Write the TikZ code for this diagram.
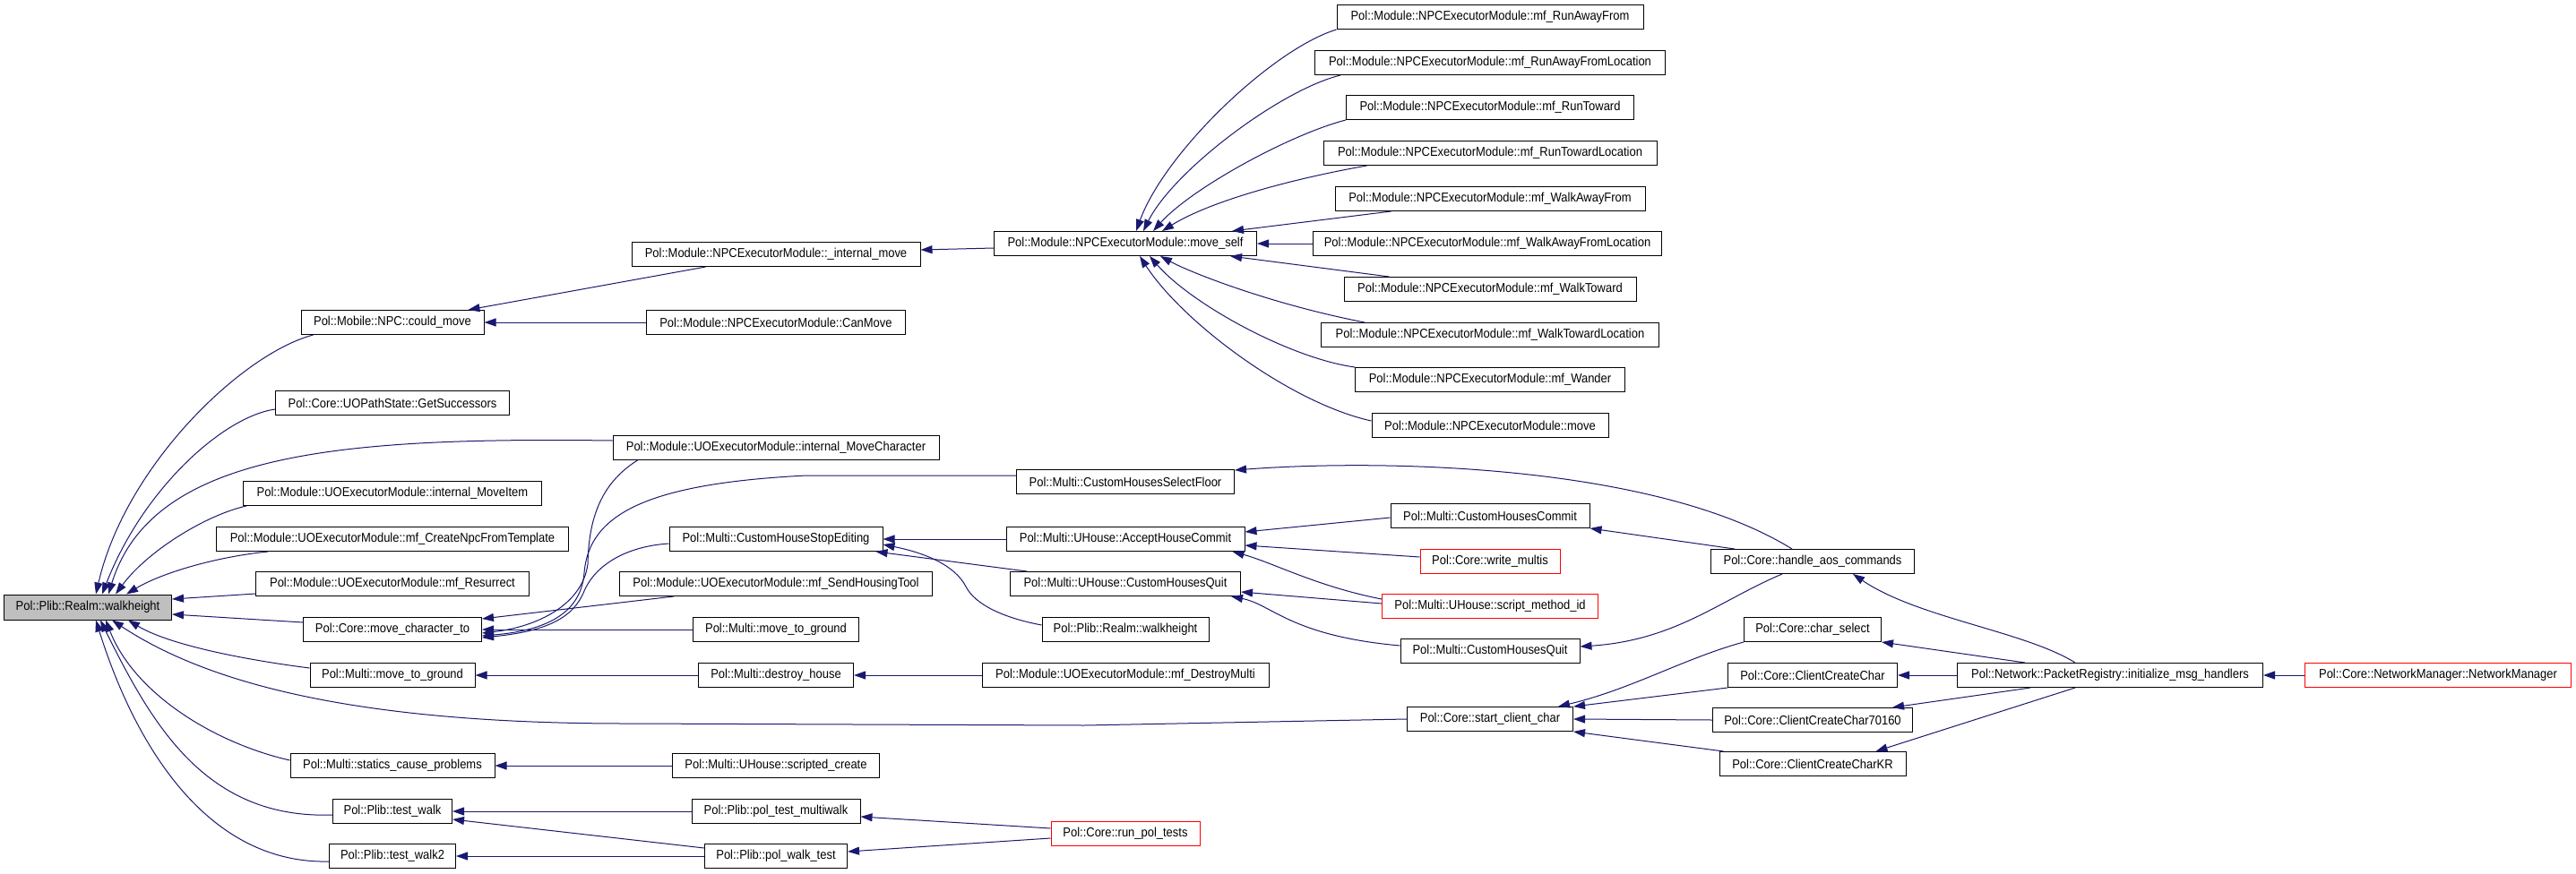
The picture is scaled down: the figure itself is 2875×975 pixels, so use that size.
\documentclass[tikz,border=0pt]{standalone}
\usepackage{fontspec}
\setmainfont[FakeStretch=0.9]{Liberation Sans}
\usetikzlibrary{arrows.meta}
\definecolor{edgeblue}{HTML}{191970}
\definecolor{rootgray}{HTML}{BFBFBF}
\definecolor{truncred}{HTML}{FF0000}
\tikzset{
  fn/.style={draw=black, line width=1pt, fill=white, inner sep=0pt, minimum height=27pt, font=\fontsize{14.4}{16}\selectfont},
  rootfn/.style={fn, fill=rootgray, minimum height=28pt},
  trunc/.style={fn, draw=truncred},
  edge/.style={draw=edgeblue, line width=1pt, {Triangle[length=13pt,width=9pt]}-},
}
\begin{document}
\begin{tikzpicture}[x=1pt,y=-1pt]
\useasboundingbox[fill=white] (0,0) rectangle (2875,975);
% column 0
\node[rootfn, minimum width=187pt] (root) at (98,678) {Pol::Plib::Realm::walkheight};
% column 1
\node[fn, minimum width=204pt] (could) at (438,360) {Pol::Mobile::NPC::could\_move};
\node[fn, minimum width=261pt] (getsucc) at (438,450) {Pol::Core::UOPathState::GetSuccessors};
\node[fn, minimum width=333pt] (movei) at (438,551) {Pol::Module::UOExecutorModule::internal\_MoveItem};
\node[fn, minimum width=393pt] (createnpc) at (438,602) {Pol::Module::UOExecutorModule::mf\_CreateNpcFromTemplate};
\node[fn, minimum width=305pt] (resurrect) at (438,652) {Pol::Module::UOExecutorModule::mf\_Resurrect};
\node[fn, minimum width=199pt] (movechar) at (438,703) {Pol::Core::move\_character\_to};
\node[fn, minimum width=184pt] (mtg1) at (438,754) {Pol::Multi::move\_to\_ground};
\node[fn, minimum width=228pt] (statics) at (438,855) {Pol::Multi::statics\_cause\_problems};
\node[fn, minimum width=133pt] (testwalk) at (438,906) {Pol::Plib::test\_walk};
\node[fn, minimum width=141pt] (testwalk2) at (438,956) {Pol::Plib::test\_walk2};
% column 2
\node[fn, minimum width=322pt] (intmove) at (866,284) {Pol::Module::NPCExecutorModule::\_internal\_move};
\node[fn, minimum width=289pt] (canmove) at (866,360) {Pol::Module::NPCExecutorModule::CanMove};
\node[fn, minimum width=364pt] (imc) at (866,500) {Pol::Module::UOExecutorModule::internal\_MoveCharacter};
\node[fn, minimum width=238pt] (stopedit) at (866,602) {Pol::Multi::CustomHouseStopEditing};
\node[fn, minimum width=349pt] (sendhousing) at (866,652) {Pol::Module::UOExecutorModule::mf\_SendHousingTool};
\node[fn, minimum width=185pt] (mtg2) at (866,703) {Pol::Multi::move\_to\_ground};
\node[fn, minimum width=173pt] (destroyh) at (866,754) {Pol::Multi::destroy\_house};
\node[fn, minimum width=231pt] (scripted) at (866,855) {Pol::Multi::UHouse::scripted\_create};
\node[fn, minimum width=188pt] (multiwalk) at (866,906) {Pol::Plib::pol\_test\_multiwalk};
\node[fn, minimum width=159pt] (walktest) at (866,956) {Pol::Plib::pol\_walk\_test};
% column 3
\node[fn, minimum width=293pt] (moveself) at (1256,272) {Pol::Module::NPCExecutorModule::move\_self};
\node[fn, minimum width=243pt] (selfloor) at (1256,538) {Pol::Multi::CustomHousesSelectFloor};
\node[fn, minimum width=266pt] (accept) at (1256,602) {Pol::Multi::UHouse::AcceptHouseCommit};
\node[fn, minimum width=257pt] (uquit) at (1256,652) {Pol::Multi::UHouse::CustomHousesQuit};
\node[fn, minimum width=186pt] (walkh3) at (1256,703) {Pol::Plib::Realm::walkheight};
\node[fn, minimum width=320pt] (destroym) at (1256,754) {Pol::Module::UOExecutorModule::mf\_DestroyMulti};
\node[trunc, minimum width=166pt] (runtests) at (1256,931) {Pol::Core::run\_pol\_tests};
% column 4
\node[fn, minimum width=342pt] (rafrom) at (1663,19) {Pol::Module::NPCExecutorModule::mf\_RunAwayFrom};
\node[fn, minimum width=391pt] (raloc) at (1663,70) {Pol::Module::NPCExecutorModule::mf\_RunAwayFromLocation};
\node[fn, minimum width=321pt] (rtoward) at (1663,120) {Pol::Module::NPCExecutorModule::mf\_RunToward};
\node[fn, minimum width=372pt] (rtloc) at (1663,171) {Pol::Module::NPCExecutorModule::mf\_RunTowardLocation};
\node[fn, minimum width=346pt] (wafrom) at (1663,222) {Pol::Module::NPCExecutorModule::mf\_WalkAwayFrom};
\node[fn, minimum width=389pt] (waloc) at (1660,272) {Pol::Module::NPCExecutorModule::mf\_WalkAwayFromLocation};
\node[fn, minimum width=326pt] (wtoward) at (1663,323) {Pol::Module::NPCExecutorModule::mf\_WalkToward};
\node[fn, minimum width=377pt] (wtloc) at (1663,374) {Pol::Module::NPCExecutorModule::mf\_WalkTowardLocation};
\node[fn, minimum width=301pt] (wander) at (1663,424) {Pol::Module::NPCExecutorModule::mf\_Wander};
\node[fn, minimum width=264pt] (npcmove) at (1663,475) {Pol::Module::NPCExecutorModule::move};
\node[fn, minimum width=222pt] (commit) at (1663,576) {Pol::Multi::CustomHousesCommit};
\node[trunc, minimum width=156pt] (writem) at (1663,627) {Pol::Core::write\_multis};
\node[trunc, minimum width=241pt] (scriptm) at (1663,677) {Pol::Multi::UHouse::script\_method\_id};
\node[fn, minimum width=200pt] (mquit) at (1663,727) {Pol::Multi::CustomHousesQuit};
\node[fn, minimum width=185pt] (startcc) at (1663,803) {Pol::Core::start\_client\_char};
% column 5
\node[fn, minimum width=227pt] (handleaos) at (2023,627) {Pol::Core::handle\_aos\_commands};
\node[fn, minimum width=153pt] (charsel) at (2023,703) {Pol::Core::char\_select};
\node[fn, minimum width=189pt] (ccc) at (2023,754) {Pol::Core::ClientCreateChar};
\node[fn, minimum width=223pt] (ccc70160) at (2023,804) {Pol::Core::ClientCreateChar70160};
\node[fn, minimum width=208pt] (ccckr) at (2023,853) {Pol::Core::ClientCreateCharKR};
% column 6, 7
\node[fn, minimum width=341pt] (initmsg) at (2355,754) {Pol::Network::PacketRegistry::initialize\_msg\_handlers};
\node[trunc, minimum width=297pt] (netman) at (2721,754) {Pol::Core::NetworkManager::NetworkManager};

% edges into root
\draw[edge] ([xshift=9pt]root.north) .. controls (140,520) and (270,395) .. ([xshift=14pt]could.south west);
\draw[edge] ([xshift=16pt]root.north) .. controls (160,545) and (250,465) .. ([yshift=-7pt]getsucc.west);
\draw[edge] ([xshift=23pt]root.north) .. controls (170,505) and (380,488) .. ([yshift=8pt]imc.west);
\draw[edge] ([xshift=31pt]root.north) .. controls (165,615) and (230,575) .. ([xshift=4pt]movei.south west);
\draw[edge] ([xshift=43pt]root.north) .. controls (180,640) and (240,622) .. ([xshift=58pt]createnpc.south west);
\draw[edge] ([yshift=9pt]root.east) -- ([yshift=-11pt]resurrect.west);
\draw[edge] ([yshift=-8pt]root.east) -- ([yshift=8pt]movechar.west);
\draw[edge] ([xshift=45pt]root.south) .. controls (185,718) and (260,735) .. ([yshift=8pt]mtg1.west);
\draw[edge] ([xshift=27pt]root.south) .. controls (233,764) and (400,808) .. (700,808) -- (1210,810) -- (startcc.west);
\draw[edge] ([xshift=20pt]root.south) .. controls (150,775) and (240,830) .. ([yshift=6pt]statics.west);
\draw[edge] ([xshift=14pt]root.south) .. controls (170,810) and (230,915) .. ([yshift=-4pt]testwalk.west);
\draw[edge] ([xshift=9pt]root.south) .. controls (150,830) and (230,965) .. ([yshift=-6pt]testwalk2.west);
% could_move
\draw[edge] ([xshift=-18pt]could.north east) -- ([xshift=83pt]intmove.south west);
\draw[edge] (could.east) -- (canmove.west);
\draw[edge] ([yshift=5pt]intmove.east) -- ([yshift=-5pt]moveself.west);
% move_self
\draw[edge] ([xshift=12pt]moveself.north) .. controls (1300,170) and (1420,55) .. (rafrom.south west);
\draw[edge] ([xshift=20pt]moveself.north) .. controls (1310,190) and (1430,100) .. ([xshift=29pt]raloc.south west);
\draw[edge] ([xshift=31pt]moveself.north) .. controls (1330,210) and (1440,150) .. (rtoward.south west);
\draw[edge] ([xshift=41pt]moveself.north) .. controls (1350,225) and (1440,200) .. ([xshift=49pt]rtloc.south west);
\draw[edge] ([xshift=-28pt]moveself.north east) -- ([xshift=63pt]wafrom.south west);
\draw[edge] (moveself.east) -- (waloc.west);
\draw[edge] ([xshift=-30pt]moveself.south east) -- ([xshift=51pt]wtoward.north west);
\draw[edge] ([xshift=39pt]moveself.south) .. controls (1330,305) and (1420,340) .. ([xshift=49pt]wtloc.north west);
\draw[edge] ([xshift=27pt]moveself.south) .. controls (1330,340) and (1440,400) .. (wander.north west);
\draw[edge] ([xshift=16pt]moveself.south) .. controls (1320,360) and (1440,450) .. ([yshift=5pt]npcmove.west);
% lower left
\draw[edge] (mtg1.east) -- (destroyh.west);
\draw[edge] (destroyh.east) -- (destroym.west);
\draw[edge] (statics.east) -- (scripted.west);
\draw[edge] (testwalk.east) -- (multiwalk.west);
\draw[edge] ([yshift=-9pt]testwalk.east) -- ([yshift=9pt]walktest.west);
\draw[edge] (testwalk2.east) -- (walktest.west);
\draw[edge] ([yshift=-6pt]multiwalk.east) -- ([yshift=6pt]runtests.west);
\draw[edge] ([yshift=5pt]walktest.east) -- ([yshift=-5pt]runtests.west);
% move_character_to
\draw[edge] ([yshift=12pt]movechar.east) -- ([xshift=61pt]sendhousing.south west);
\draw[edge] (movechar.east) -- (mtg2.west);
\draw[edge] ([yshift=-4pt]movechar.east) .. controls (600,700) and (650,675) .. (656,630) .. controls (657,580) and (670,540) .. ([xshift=28pt]imc.south west);
\draw[edge] ([yshift=-7pt]movechar.east) .. controls (600,705) and (648,690) .. (652,640) .. controls (657,575) and (720,540) .. (900,531) -- ([yshift=7pt]selfloor.west);
\draw[edge] ([yshift=-9pt]movechar.east) .. controls (610,705) and (640,690) .. (652,660) .. controls (665,630) and (700,610) .. ([yshift=-5pt]stopedit.west);
% CustomHouseStopEditing
\draw[edge] (stopedit.east) -- (accept.west);
\draw[edge] ([yshift=-6pt]stopedit.east) .. controls (1030,617) and (1065,630) .. (1078,655) .. controls (1088,675) and (1120,690) .. ([yshift=5pt]walkh3.west);
\draw[edge] ([xshift=-8pt]stopedit.south east) -- ([xshift=19pt]uquit.north west);
% AcceptHouseCommit / CustomHousesQuit
\draw[edge] ([yshift=8pt]accept.east) -- ([yshift=-2pt]commit.west);
\draw[edge] ([yshift=-7pt]accept.east) -- ([yshift=5pt]writem.west);
\draw[edge] ([xshift=-14pt]accept.south east) .. controls (1420,628) and (1470,655) .. ([yshift=8pt]scriptm.west);
\draw[edge] ([yshift=-9pt]uquit.east) -- ([yshift=3pt]scriptm.west);
\draw[edge] ([xshift=-11pt]uquit.south east) .. controls (1420,675) and (1440,710) .. ([yshift=6pt]mquit.west);
% handle_aos_commands
\draw[edge] ([yshift=13pt]selfloor.east) .. controls (1550,512) and (1850,520) .. ([xshift=-23pt]handleaos.north);
\draw[edge] (commit.south east) -- ([xshift=27pt]handleaos.north west);
\draw[edge] ([yshift=5pt]mquit.east) .. controls (1870,715) and (1920,670) .. ([xshift=-34pt]handleaos.south);
\draw[edge] ([xshift=45pt]handleaos.south) .. controls (2140,690) and (2260,705) .. ([xshift=132pt]initmsg.north west);
% start_client_char
\draw[edge] ([xshift=-17pt]startcc.north east) .. controls (1820,770) and (1880,735) .. (charsel.south west);
\draw[edge] (startcc.north east) -- (ccc.south west);
\draw[edge] (startcc.east) -- (ccc70160.west);
\draw[edge] (startcc.south east) -- ([xshift=5pt]ccckr.north west);
% initialize_msg_handlers
\draw[edge] (charsel.south east) -- ([xshift=76pt]initmsg.north west);
\draw[edge] (ccc.east) -- (initmsg.west);
\draw[edge] ([xshift=-23pt]ccc70160.north east) -- ([xshift=82pt]initmsg.south west);
\draw[edge] ([xshift=-34pt]ccckr.north east) -- ([xshift=132pt]initmsg.south west);
\draw[edge] (initmsg.east) -- (netman.west);
\end{tikzpicture}
\end{document}
